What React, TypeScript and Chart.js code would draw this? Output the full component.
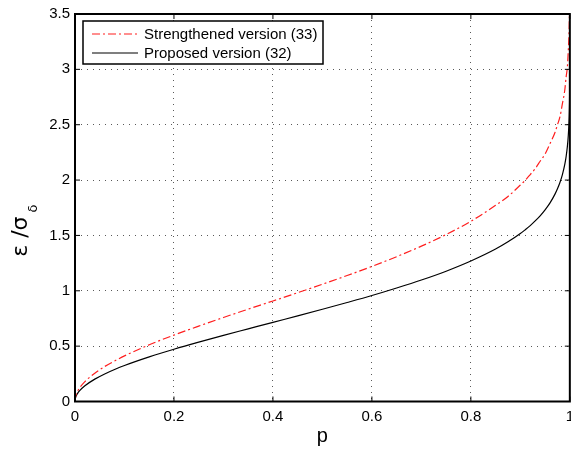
import { useEffect, useRef } from "react";
import { Chart, registerables } from "chart.js";

Chart.register(...registerables);

// Probability values p (x axis)
const pValues = [0, 0.001, 0.005, 0.01, 0.02, 0.04, 0.06, 0.08, 0.1, 0.15, 0.2, 0.25, 0.3, 0.35, 0.4, 0.45, 0.5, 0.55, 0.6, 0.65, 0.7, 0.75, 0.8, 0.85, 0.875, 0.9, 0.91, 0.92, 0.93, 0.94, 0.95, 0.96, 0.97, 0.975, 0.98, 0.985, 0.99, 0.9925, 0.995, 0.997, 0.998, 0.999, 0.9995, 0.9999, 0.99999, 0.999999];
// Proposed version (32), black solid
const proposed = [0, 0.032, 0.071, 0.100, 0.142, 0.202, 0.249, 0.289, 0.325, 0.403, 0.472, 0.536, 0.597, 0.656, 0.715, 0.773, 0.833, 0.894, 0.957, 1.025, 1.097, 1.177, 1.269, 1.377, 1.442, 1.517, 1.552, 1.589, 1.631, 1.677, 1.731, 1.794, 1.873, 1.921, 1.978, 2.049, 2.146, 2.212, 2.302, 2.410, 2.493, 2.628, 2.757, 3.035, 3.393, 3.717];
// Strengthened version (33), red dash-dot
const strengthened = [0, 0.04, 0.09, 0.127, 0.18, 0.256, 0.316, 0.366, 0.412, 0.512, 0.600, 0.681, 0.759, 0.834, 0.908, 0.983, 1.059, 1.138, 1.220, 1.308, 1.403, 1.508, 1.628, 1.772, 1.852, 1.955, 1.999, 2.05, 2.103, 2.17, 2.236, 2.33, 2.43, 2.50, 2.57, 2.69, 2.82, 2.93, 3.02, 3.18, 3.28, 3.45, 3.62, 3.9, 4.3, 4.7];

const seriesLabels = ["Strengthened version (33)", "Proposed version (32)"];
const xTicks = [0, 0.2, 0.4, 0.6, 0.8, 1];
const yTicks = [0, 0.5, 1, 1.5, 2, 2.5, 3, 3.5];
const xTitle = "p";
const yTitleMain = "ε /σ";
const yTitleSub = "δ";

const RED = "rgb(255,30,30)";
const RED_DASH = [8, 3, 2, 3];
const FONT = '"Liberation Sans", Arial, sans-serif';

const decorPlugin = {
  id: "decor",
  afterDraw(chart: any) {
    const { ctx, chartArea: a, scales } = chart;
    ctx.save();
    // inner tick marks on all four sides
    ctx.strokeStyle = "#000";
    ctx.lineWidth = 1;
    ctx.setLineDash([]);
    const seg = (x1: number, y1: number, x2: number, y2: number) => {
      ctx.beginPath();
      ctx.moveTo(x1, y1);
      ctx.lineTo(x2, y2);
      ctx.stroke();
    };
    xTicks.forEach((v) => {
      const x = scales.x.getPixelForValue(v);
      seg(x, a.bottom, x, a.bottom - 5);
      seg(x, a.top, x, a.top + 5);
    });
    yTicks.forEach((v) => {
      const y = scales.y.getPixelForValue(v);
      seg(a.left, y, a.left + 5, y);
      seg(a.right, y, a.right - 5, y);
    });
    // axes box
    ctx.lineWidth = 2;
    ctx.strokeRect(a.left, a.top, a.right - a.left, a.bottom - a.top);

    // legend
    const lx = a.left + 8;
    const ly = a.top + 7;
    ctx.fillStyle = "#fff";
    ctx.fillRect(lx, ly, 240, 43);
    ctx.lineWidth = 1.5;
    ctx.strokeStyle = "#000";
    ctx.strokeRect(lx, ly, 240, 43);
    const ds = chart.data.datasets;
    const rows = [a.top + 20, a.top + 39];
    ds.forEach((d: any, i: number) => {
      const y = rows[i];
      ctx.beginPath();
      ctx.strokeStyle = d.borderColor;
      ctx.lineWidth = d.borderWidth;
      ctx.setLineDash(d.borderDash || []);
      ctx.moveTo(a.left + 17, y);
      ctx.lineTo(a.left + 63, y);
      ctx.stroke();
      ctx.setLineDash([]);
      ctx.fillStyle = "#000";
      ctx.font = "15px " + FONT;
      ctx.textBaseline = "middle";
      ctx.textAlign = "left";
      ctx.fillText(d.label, a.left + 69, y + 0.5);
    });

    // y axis title with subscript
    ctx.translate(a.left - 48, (a.top + a.bottom) / 2 + 49);
    ctx.rotate(-Math.PI / 2);
    ctx.fillStyle = "#000";
    ctx.textBaseline = "alphabetic";
    ctx.textAlign = "left";
    ctx.font = '22px "DejaVu Sans", sans-serif';
    ctx.fillText(yTitleMain, 0, 0);
    const w = ctx.measureText(yTitleMain).width;
    ctx.font = '13px "DejaVu Sans", sans-serif';
    ctx.fillText(yTitleSub, w + 4, 10);
    ctx.restore();
  },
};

export default function App() {
  const ref = useRef<HTMLCanvasElement | null>(null);
  useEffect(() => {
    if (!ref.current) return;
    const chart = new Chart(ref.current, {
      type: "line",
      data: {
        datasets: [
          {
            label: seriesLabels[0],
            data: pValues.map((p, i) => ({ x: p, y: strengthened[i] })),
            borderColor: RED,
            borderWidth: 1.2,
            borderDash: RED_DASH,
            pointRadius: 0,
            cubicInterpolationMode: "monotone",
            fill: false,
          },
          {
            label: seriesLabels[1],
            data: pValues.map((p, i) => ({ x: p, y: proposed[i] })),
            borderColor: "#000",
            borderWidth: 1.2,
            pointRadius: 0,
            cubicInterpolationMode: "monotone",
            fill: false,
          },
        ],
      },
      options: {
        animation: false,
        responsive: false,
        devicePixelRatio: 1,
        layout: { padding: { left: 0, top: 10, right: 6.5, bottom: 0 } },
        plugins: { legend: { display: false }, tooltip: { enabled: false } },
        scales: {
          x: {
            type: "linear",
            min: 0,
            max: 1,
            afterBuildTicks: (s: any) => {
              s.ticks = xTicks.map((v) => ({ value: v }));
            },
            afterFit: (s: any) => {
              s.height = 50.5;
            },
            ticks: {
              callback: (v: any) => String(v),
              color: "#000",
              font: { family: FONT, size: 15 },
              padding: 6,
              maxRotation: 0,
              autoSkip: false,
            },
            grid: { color: "rgba(0,0,0,0.65)", lineWidth: 1, drawTicks: false },
            border: { display: false, dash: [1, 5] },
            title: {
              display: true,
              text: xTitle,
              color: "#000",
              font: { family: FONT, size: 20 },
              padding: { top: 0, bottom: 3.5 },
            },
          },
          y: {
            type: "linear",
            min: 0,
            max: 3.5,
            afterBuildTicks: (s: any) => {
              s.ticks = yTicks.map((v) => ({ value: v }));
            },
            afterFit: (s: any) => {
              s.width = 75;
            },
            ticks: {
              callback: (v: any) => String(v),
              color: "#000",
              font: { family: FONT, size: 15 },
              padding: 5,
              autoSkip: false,
            },
            grid: { color: "rgba(0,0,0,0.65)", lineWidth: 1, drawTicks: false },
            border: { display: false, dash: [1, 5] },
          },
        },
      },
      plugins: [decorPlugin],
    } as any);
    return () => chart.destroy();
  }, []);
  return (
    <div style={{ position: "fixed", left: 0, top: 0, width: 571, height: 452, overflow: "hidden", background: "#fff" }}>
      <canvas ref={ref} width={580} height={452} style={{ display: "block" }} />
    </div>
  );
}
